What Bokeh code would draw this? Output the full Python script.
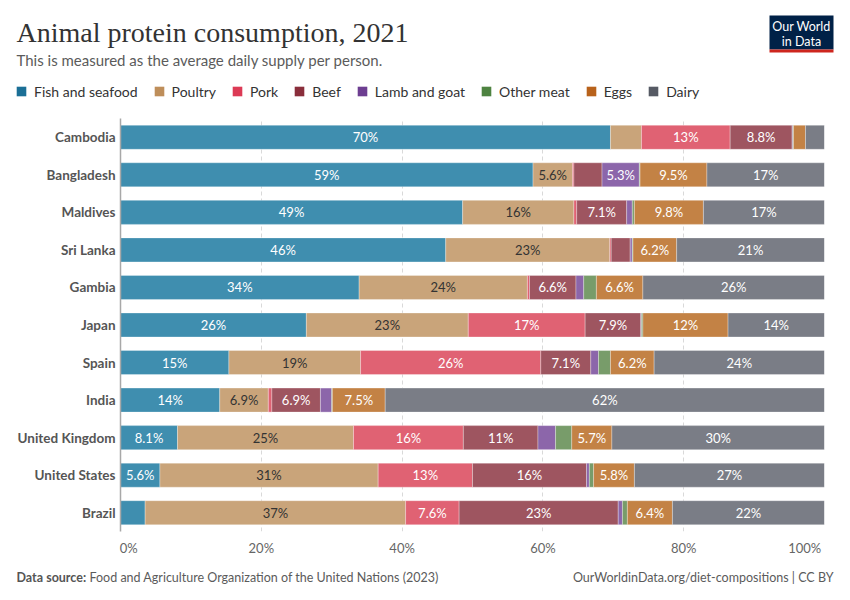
from bokeh.plotting import figure
from bokeh.models import (ColumnDataSource, FactorRange, Range1d, Legend, LegendItem, FixedTicker)
from bokeh.layouts import column
from bokeh.core.properties import value
from bokeh.embed import file_html
from bokeh.resources import INLINE

# ---------------- data ----------------
countries = ["Cambodia", "Bangladesh", "Maldives", "Sri Lanka", "Gambia", "Japan",
             "Spain", "India", "United Kingdom", "United States", "Brazil"]
categories = ["Fish and seafood", "Poultry", "Pork", "Beef", "Lamb and goat",
              "Other meat", "Eggs", "Dairy"]

fish    = [69.6, 58.6, 48.6, 46.2, 33.9, 26.4, 15.4, 14.1,  8.1,  5.6,  3.5]
poultry = [ 4.4,  5.6, 15.8, 23.3, 23.9, 23.0, 18.7,  6.9, 25.0, 31.0, 37.0]
pork    = [12.6,  0.2,  0.4,  0.2,  0.3, 16.6, 25.6,  0.5, 15.6, 13.4,  7.6]
beef    = [ 8.8,  4.0,  7.1,  2.7,  6.6,  7.9,  7.1,  6.9, 10.6, 16.2, 22.6]
lamb    = [ 0.1,  5.3,  0.8,  0.3,  1.1,  0.1,  1.1,  1.6,  2.5,  0.4,  0.6]
other   = [ 0.1,  0.1,  0.3,  0.1,  1.8,  0.2,  1.7,  0.1,  2.3,  0.6,  0.7]
eggs    = [ 1.7,  9.5,  9.8,  6.2,  6.6, 12.1,  6.2,  7.5,  5.7,  5.8,  6.4]
dairy   = [ 2.7, 16.7, 17.2, 21.0, 25.8, 13.7, 24.2, 62.4, 30.2, 27.0, 21.6]

series = [fish, poultry, pork, beef, lamb, other, eggs, dairy]

bar_colors    = ["#3f8eaf", "#c9a47a", "#e06273", "#9e5560", "#8c66aa", "#789c6a", "#c38245", "#7a7d86"]
legend_colors = ["#1b6f96", "#be8e5a", "#dc3a55", "#8a2e3b", "#6d3e91", "#4e8341", "#b8621b", "#565a64"]
label_colors  = ["white", "#333333", "white", "white", "white", "white", "white", "white"]

x_ticks = [0, 20, 40, 60, 80, 100]
tick_labels = ["0%", "20%", "40%", "60%", "80%", "100%"]

title = "Animal protein consumption, 2021"
subtitle = "This is measured as the average daily supply per person."
source_bold = "Data source:"
source_text = "Food and Agriculture Organization of the United Nations (2023)"
credit = "OurWorldinData.org/diet-compositions | CC BY"

FONT = "Lato"
W = 834
HEAD_H, MAIN_H, FOOT_H = 115, 445, 24
FL, FR, FT, FB = 120, 824, 118, 531   # frame edges in picture pixels


def bare(fig):
    fig.axis.visible = False
    fig.grid.visible = False
    return fig


# ---------------- header ----------------
header = bare(figure(width=W, height=HEAD_H, x_range=Range1d(0, W), y_range=Range1d(HEAD_H, 0),
                     output_backend="svg", toolbar_location=None, min_border=0,
                     outline_line_color=None, frame_align=False))

header.text(x=[16], y=[32], text=[title], text_font=value("Liberation Serif"),
            text_font_size="28px", text_color="#333333", text_baseline="middle")
header.text(x=[16], y=[59], text=[subtitle], text_font=value(FONT),
            text_font_size="15px", text_color="#5b5b5b", text_baseline="middle")

# logo
header.quad(left=[769], right=[833], top=[15], bottom=[49], fill_color="#002147", line_color=None)
header.quad(left=[769], right=[833], top=[49], bottom=[52], fill_color="#ce261e", line_color=None)
header.text(x=[801, 801], y=[26, 41], text=["Our World", "in Data"], text_font=value(FONT),
            text_font_size="12.5px", text_color="white", text_align="center",
            text_baseline="middle")

items = []
for cat, col in zip(categories, legend_colors):
    # one point far outside the visible range, only so that the legend has a swatch
    r = header.rect(x=[-1000], y=[-1000], width=1, height=1, fill_color=col, line_color=None)
    items.append(LegendItem(label=cat, renderers=[r]))
legend = Legend(items=items, orientation="horizontal", location=(15, HEAD_H - 101),
                glyph_width=12, glyph_height=12, label_standoff=7, spacing=15,
                padding=0, margin=0, border_line_color=None, background_fill_alpha=0,
                label_text_font=FONT, label_text_font_size="14px",
                label_text_color="#333333", label_height=20)
header.add_layout(legend)

# ---------------- main chart ----------------
y_factors = countries[::-1]
p = figure(width=W, height=MAIN_H, y_range=FactorRange(factors=y_factors, range_padding=0),
           x_range=Range1d(0, 100), output_backend="svg", toolbar_location=None,
           min_border_left=FL, min_border_right=W - FR, min_border_top=FT - HEAD_H,
           min_border_bottom=HEAD_H + MAIN_H - FB, outline_line_color=None,
           frame_align=False)

data = {"country": countries}
for cat, vals in zip(categories, series):
    data[cat] = vals
src = ColumnDataSource(data)
p.hbar_stack(categories, y="country", height=0.64, color=bar_colors, source=src,
             line_color="white", line_width=0.6, line_alpha=0.5)

# segment labels
lx, ly, lt, lc = [], [], [], []
for i, c in enumerate(countries):
    left = 0.0
    for vals, col in zip(series, label_colors):
        v = vals[i]
        if v >= 5:
            lx.append(left + v / 2)
            ly.append(c)
            lt.append(f"{v:.2g}%")
            lc.append(col)
        left += v
lab_src = ColumnDataSource(dict(x=lx, y=ly, t=lt, c=lc))
p.text(x="x", y="y", text="t", text_color="c", source=lab_src, text_font=value(FONT),
       text_font_size="13px", text_align="center", text_baseline="middle")

# axes & grid
p.xgrid.ticker = FixedTicker(ticks=x_ticks)
p.xgrid.grid_line_color = "#d9d9d9"
p.xgrid.grid_line_dash = "4 3"
p.ygrid.visible = False

NB = "\u00a0"
overrides = {t: l for t, l in zip(x_ticks, tick_labels)}
overrides[x_ticks[0]] = NB * 5 + tick_labels[0]      # first label starts at the axis
overrides[x_ticks[-1]] = tick_labels[-1] + NB * 4    # last label ends at the axis end

xa = p.xaxis[0]
xa.ticker = FixedTicker(ticks=x_ticks)
xa.major_label_overrides = overrides
xa.axis_line_color = None
xa.major_tick_line_color = None
xa.minor_tick_line_color = None
xa.major_tick_out = 0
xa.major_tick_in = 0
xa.major_label_standoff = 8
xa.major_label_text_font = FONT
xa.major_label_text_font_size = "13px"
xa.major_label_text_color = "#666666"

ya = p.yaxis[0]
ya.axis_line_color = "#a8a8a8"
ya.axis_line_width = 1.5
ya.major_tick_line_color = None
ya.minor_tick_line_color = None
ya.major_tick_out = 0
ya.major_tick_in = 0
ya.major_label_standoff = 5
ya.major_label_text_font = FONT
ya.major_label_text_font_style = "bold"
ya.major_label_text_font_size = "13.5px"
ya.major_label_text_color = "#555555"

# ---------------- footer ----------------
F0 = HEAD_H + MAIN_H
footer = bare(figure(width=W, height=FOOT_H, x_range=Range1d(0, W),
                     y_range=Range1d(F0 + FOOT_H, F0),
                     output_backend="svg", toolbar_location=None, min_border=0,
                     outline_line_color=None, frame_align=False))
footer.text(x=[16], y=[577], text=[source_bold], text_font=value(FONT), text_font_style="bold",
            text_font_size="12.5px", text_color="#555555", text_baseline="middle")
footer.text(x=[89], y=[577], text=[source_text], text_font=value(FONT),
            text_font_size="12.5px", text_color="#5b5b5b", text_baseline="middle")
footer.text(x=[833], y=[577], text=[credit], text_font=value(FONT),
            text_font_size="12.5px", text_color="#5b5b5b", text_baseline="middle",
            text_align="right")

layout = column(header, p, footer, spacing=0)
open("out.html", "w").write(file_html(layout, INLINE))
